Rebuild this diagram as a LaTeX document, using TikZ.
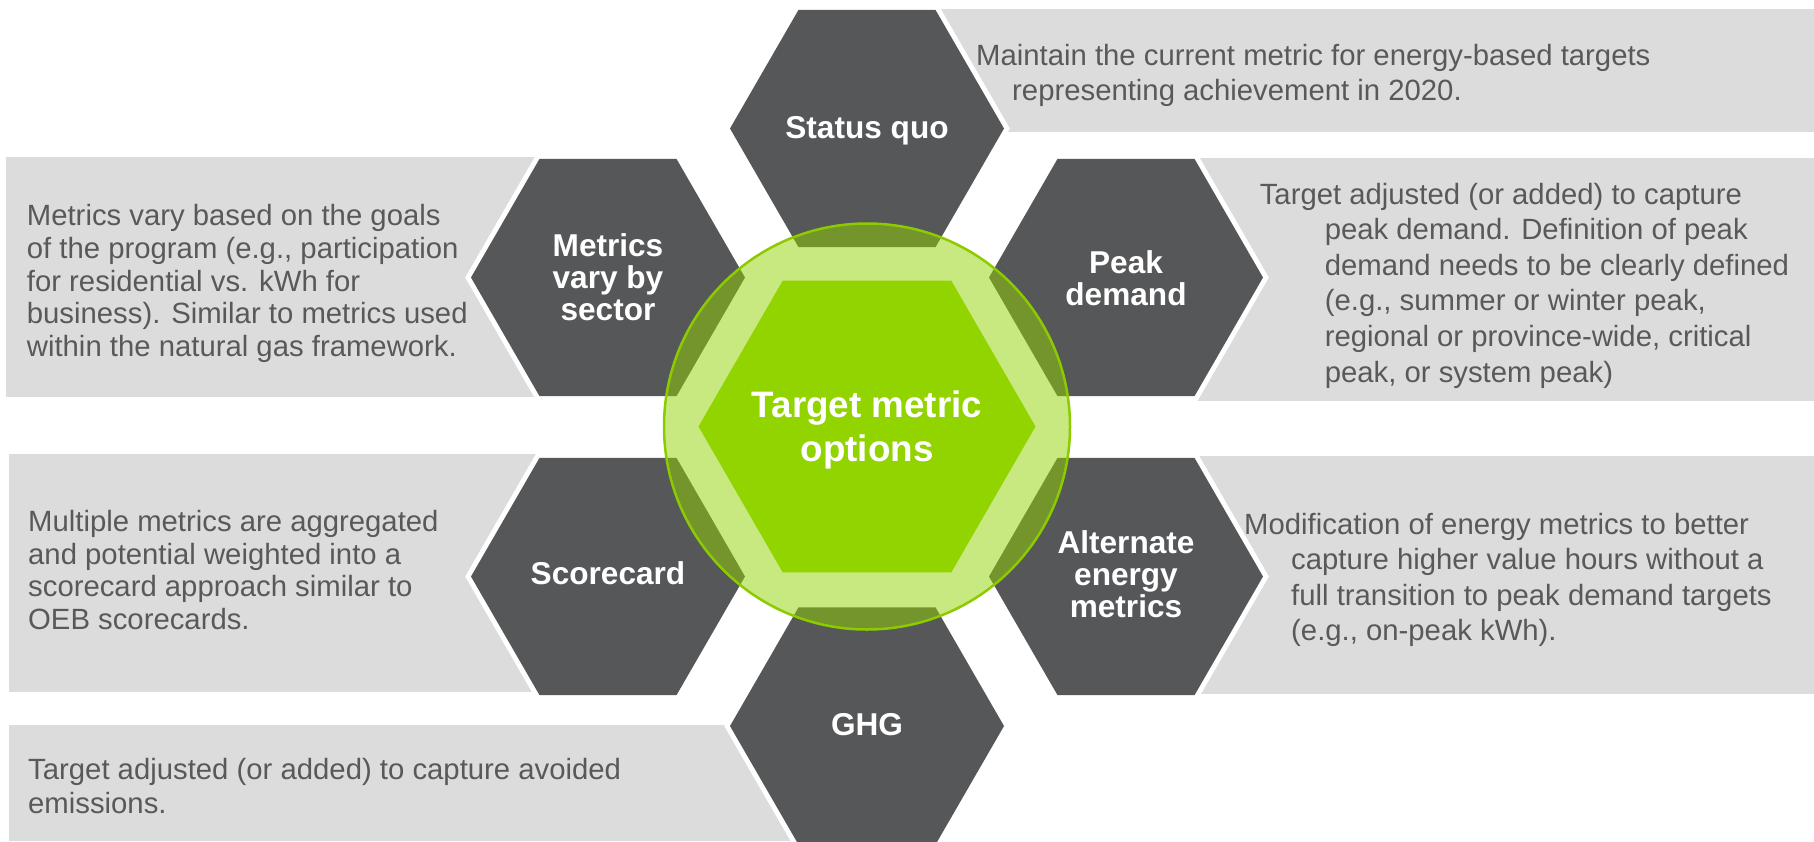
\documentclass[tikz,border=0pt]{standalone}
\usepackage{fontspec}
\setmainfont{Liberation Sans}
\usetikzlibrary{calc}
\definecolor{hexgray}{HTML}{555759}
\definecolor{boxgray}{HTML}{DCDCDC}
\definecolor{txtgray}{HTML}{595959}
\definecolor{limefill}{HTML}{92D400}
\definecolor{limeline}{HTML}{8CCB00}
\newcommand\hexp[3]{(#1+#3,#2) -- (#1+0.5*#3,#2+0.866*#3) -- (#1-0.5*#3,#2+0.866*#3) -- (#1-#3,#2) -- (#1-0.5*#3,#2-0.866*#3) -- (#1+0.5*#3,#2-0.866*#3) -- cycle}
\tikzset{
  body/.style={anchor=base west, inner sep=0pt, text=txtgray},
  hexlabel/.style={align=center, text=white, inner sep=0pt, font=\bfseries\fontsize{31.6}{32}\selectfont},
  boxfill/.style={fill=boxgray},
  gapfill/.style={fill=white},
  hexfill/.style={fill=hexgray}
}
\begin{document}
\begin{tikzpicture}[x=1pt,y=-1pt]
\useasboundingbox (0,0) rectangle (1814,841);
\fill[white] (0,0) rectangle (1814,841);

% grey text boxes
\fill[boxfill] (900,9) rectangle (1814,132);
\fill[boxfill] (1150,158) rectangle (1814,401);
\fill[boxfill] (1150,456) rectangle (1814,694);
\fill[boxfill] (6,157) rectangle (580,397);
\fill[boxfill] (9,454) rectangle (580,692);
\fill[boxfill] (9,725) rectangle (800,841);

% white gaps
\fill[gapfill] \hexp{867}{128.5}{142.8};
\fill[gapfill] \hexp{1126}{277.5}{142.8};
\fill[gapfill] \hexp{1126}{576.5}{142.8};
\fill[gapfill] \hexp{867}{726}{142.8};
\fill[gapfill] \hexp{608}{576.5}{142.8};
\fill[gapfill] \hexp{608}{277.5}{142.8};

% dark hexagons
\fill[hexfill] \hexp{867}{128.5}{137};
\fill[hexfill] \hexp{1126}{277.5}{137};
\fill[hexfill] \hexp{1126}{576.5}{137};
\fill[hexfill] \hexp{867}{726}{137};
\fill[hexfill] \hexp{608}{576.5}{137};
\fill[hexfill] \hexp{608}{277.5}{137};

% translucent circle
\fill[limefill, opacity=0.5] (867,426.5) circle[radius=203pt];
\draw[limeline, line width=2.5pt] (867,426.5) circle[radius=203pt];

% centre hexagon
\fill[limefill] \hexp{867}{426.5}{168.5};

% labels
\node[hexlabel, font=\bfseries\fontsize{36.8}{44}\selectfont] (ctr) at (867,430) {Target metric\\options};
\node[hexlabel] (hsq) at (867,130.8) {Status quo};
\node[hexlabel] (hpd) at (1126,278.5) {Peak\\demand};
\node[hexlabel] (hae) at (1126,574) {Alternate\\energy\\metrics};
\node[hexlabel] (hgh) at (867,724.3) {GHG};
\node[hexlabel] (hsc) at (608,573.2) {Scorecard};
\node[hexlabel] (hmv) at (608,277.5) {Metrics\\vary by\\sector};

% body texts
\node[body, font=\fontsize{29.3}{35.3}\selectfont] (tsq) at (976,65)
  {\vtop{\hbox{Maintain the current metric for energy-based targets}\hbox{\hspace*{36pt}representing achievement in 2020.}}};
\node[body, font=\fontsize{29.3}{35.6}\selectfont] (tpd) at (1259.6,204)
  {\vtop{\hbox{Target adjusted (or added) to capture}\hbox{\hspace*{65pt}peak demand. Definition of peak}\hbox{\hspace*{65pt}demand needs to be clearly defined}\hbox{\hspace*{65pt}(e.g., summer or winter peak,}\hbox{\hspace*{65pt}regional or province-wide, critical}\hbox{\hspace*{65pt}peak, or system peak)}}};
\node[body, font=\fontsize{29.3}{35.4}\selectfont] (tae) at (1244,534.5)
  {\vtop{\hbox{Modification of energy metrics to better}\hbox{\hspace*{47pt}capture higher value hours without a}\hbox{\hspace*{47pt}full transition to peak demand targets}\hbox{\hspace*{47pt}(e.g., on-peak kWh).}}};
\node[body, font=\fontsize{29.3}{32.9}\selectfont] (tmv) at (26.7,225.2)
  {\vtop{\hbox{Metrics vary based on the goals}\hbox{of the program (e.g., participation}\hbox{for residential vs. kWh for}\hbox{business). Similar to metrics used}\hbox{within the natural gas framework.}}};
\node[body, font=\fontsize{29.3}{32.5}\selectfont] (tsc) at (28,531.7)
  {\vtop{\hbox{Multiple metrics are aggregated}\hbox{and potential weighted into a}\hbox{scorecard approach similar to}\hbox{OEB scorecards.}}};
\node[body, font=\fontsize{29.3}{34.6}\selectfont] (tgh) at (28,779)
  {\vtop{\hbox{Target adjusted (or added) to capture avoided}\hbox{emissions.}}};
\end{tikzpicture}
\end{document}
